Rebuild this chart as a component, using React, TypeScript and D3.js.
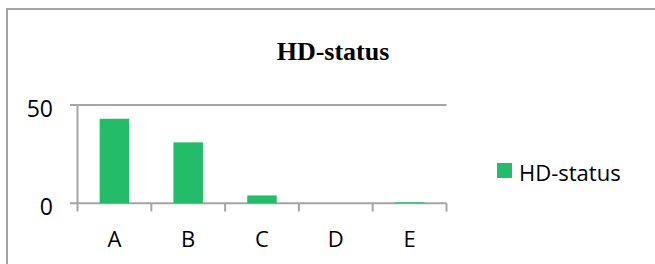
import React, { useEffect, useRef } from 'react';
import * as d3 from 'd3';

const categories = ['A', 'B', 'C', 'D', 'E'];
const values = [43, 31, 4, 0, 0.5];
const yTicks = [0, 50];
const seriesName = 'HD-status';
const title = 'HD-status';

const App = () => {
  const svgRef = useRef<SVGSVGElement>(null);

  useEffect(() => {
    const width = 655;
    const height = 264;
    const svg = d3.select(svgRef.current)
      .attr('width', width)
      .attr('height', height);
    svg.selectAll('*').remove();

    const gray = '#a5a5a5';
    const green = '#23bd6a';
    const sans = '"Open Sans", sans-serif';

    // outer frame, runs off right and bottom edges
    svg.append('path')
      .attr('d', `M7,${height + 5} V9 H${width + 5}`)
      .attr('fill', 'none')
      .attr('stroke', gray)
      .attr('stroke-width', 2);

    const x = d3.scaleBand()
      .domain(categories)
      .range([77.5, 446.5])
      .paddingInner(0.6)
      .paddingOuter(0.3);

    const y = d3.scaleLinear()
      .domain([0, 50])
      .range([203.3, 105]);

    // gridlines / value lines
    svg.selectAll('.grid')
      .data(yTicks)
      .enter()
      .append('line')
      .attr('x1', 70)
      .attr('x2', 446.5)
      .attr('y1', d => y(d))
      .attr('y2', d => y(d))
      .attr('stroke', gray)
      .attr('stroke-width', 2);

    // y axis
    svg.append('line')
      .attr('x1', 77.5).attr('x2', 77.5)
      .attr('y1', y(50)).attr('y2', 211.5)
      .attr('stroke', gray)
      .attr('stroke-width', 2);

    // category boundary ticks
    const step = x.step();
    const tickXs = d3.range(1, categories.length + 1).map(i => 77.5 + i * step);
    svg.selectAll('.xtick')
      .data(tickXs)
      .enter()
      .append('line')
      .attr('x1', d => d).attr('x2', d => d)
      .attr('y1', y(0)).attr('y2', 211.5)
      .attr('stroke', gray)
      .attr('stroke-width', 2);

    svg.selectAll('.bar')
      .data(values)
      .enter()
      .append('rect')
      .attr('x', (d, i) => x(categories[i]) as number)
      .attr('y', d => y(d))
      .attr('width', x.bandwidth())
      .attr('height', d => y(0) - y(d))
      .attr('fill', green);

    svg.selectAll('.ylabel')
      .data(yTicks)
      .enter()
      .append('text')
      .attr('x', 53)
      .attr('y', d => y(d) + 12)
      .attr('text-anchor', 'end')
      .style('font-family', sans)
      .style('font-size', '23px')
      .attr('fill', '#000')
      .text(d => d);

    svg.selectAll('.xlabel')
      .data(categories)
      .enter()
      .append('text')
      .attr('x', d => (x(d) as number) + x.bandwidth() / 2)
      .attr('y', 247)
      .attr('text-anchor', 'middle')
      .style('font-family', sans)
      .style('font-size', '22px')
      .attr('fill', '#000')
      .text(d => d);

    svg.append('text')
      .attr('x', 333)
      .attr('y', 59.5)
      .attr('text-anchor', 'middle')
      .style('font-family', '"Liberation Serif", serif')
      .style('font-weight', 'bold')
      .style('font-size', '26px')
      .attr('fill', '#000')
      .text(title);

    svg.append('rect')
      .attr('x', 497).attr('y', 163)
      .attr('width', 15).attr('height', 15)
      .attr('fill', green);

    svg.append('text')
      .attr('x', 519)
      .attr('y', 181)
      .style('font-family', sans)
      .style('font-size', '22px')
      .attr('fill', '#000')
      .text(seriesName);
  }, []);

  return (
    <div style={{ position: 'absolute', left: 0, top: 0 }}>
      <svg ref={svgRef} style={{ display: 'block' }}></svg>
    </div>
  );
};

export default App;
